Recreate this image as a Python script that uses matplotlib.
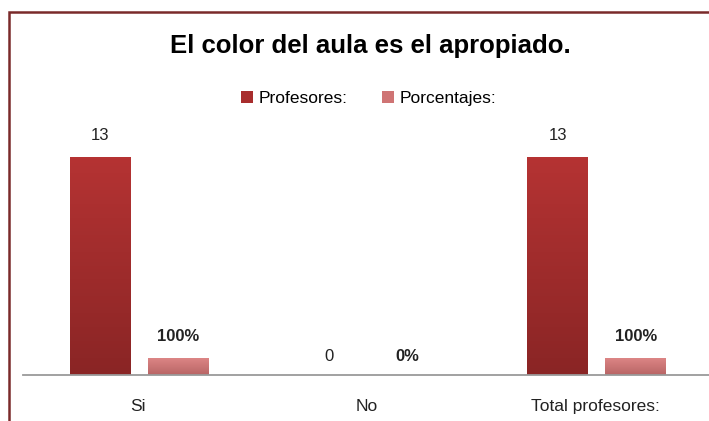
import numpy as np
import matplotlib.pyplot as plt
from matplotlib.patches import Rectangle
from matplotlib.colors import LinearSegmentedColormap

plt.rcParams['font.family'] = ['Liberation Sans', 'DejaVu Sans']

categories = ['Si', 'No', 'Total profesores:']
profesores = [13, 0, 13]
porcentajes = [1.0, 0.0, 1.0]
series_names = ['Profesores:', 'Porcentajes:']
title = 'El color del aula es el apropiado.'

fig = plt.figure(figsize=(7.09, 4.21), dpi=100)
ax = fig.add_axes([0.0331, 0.109, 0.968, 0.558])

x = np.arange(len(categories))
w = 0.266
off = 0.17
b1 = ax.bar(x - off + 0.006, profesores, w, color='#a82d2d', label=series_names[0])
b2 = ax.bar(x + off + 0.006, porcentajes, w, color='#cf7474', label=series_names[1])

# vertical gradient inside each bar
def shade(bars, top, bottom):
    cmap = LinearSegmentedColormap.from_list('g', [bottom, top])
    grad = np.linspace(0, 1, 64).reshape(-1, 1)
    for r in bars:
        if r.get_height() == 0:
            continue
        x0, y0 = r.get_x(), r.get_y()
        im = ax.imshow(grad, cmap=cmap, origin='lower', aspect='auto',
                       extent=[x0, x0 + r.get_width(), y0, y0 + r.get_height()],
                       zorder=r.get_zorder())
        im.set_clip_path(r)

shade(b1, '#b53333', '#8a2525')
shade(b2, '#dc8585', '#b86565')

for r, v in zip(b1, profesores):
    ax.annotate(str(v), (r.get_x() + r.get_width() / 2, v), xytext=(0, 10 if v else 8),
                textcoords='offset points', ha='center', va='bottom',
                fontsize=12, color='#222222')
for r, v in zip(b2, porcentajes):
    ax.annotate('{:.0%}'.format(v), (r.get_x() + r.get_width() / 2, v), xytext=(0, 10 if v else 8),
                textcoords='offset points', ha='center', va='bottom',
                fontsize=12, fontweight='bold', color='#222222')

ax.set_xlim(-0.5, 2.5)
ax.set_ylim(0, 14)
ax.set_xticks(x)
ax.set_xticklabels(categories, fontsize=12.5, color='#222222')
ax.tick_params(axis='x', length=0, pad=17)
ax.set_yticks([])
for s in ['top', 'right', 'left']:
    ax.spines[s].set_visible(False)
ax.spines['bottom'].set_color('#9a9a9a')
ax.spines['bottom'].set_linewidth(1.3)

fig.text(0.522, 0.89, title, ha='center', va='center', fontsize=18.5, fontweight='bold')
fig.legend(handles=[b1, b2], loc='center', bbox_to_anchor=(0.52, 0.767), ncol=2,
           frameon=False, fontsize=12.5, handlelength=0.7, handleheight=0.7,
           handletextpad=0.3, columnspacing=2.0)

fig.patches.append(Rectangle((0.0127, -0.1), 1.2, 1.072, transform=fig.transFigure,
                             fill=False, edgecolor='#7a2a2a', linewidth=1.8))

fig.savefig('out.png', dpi=100)
